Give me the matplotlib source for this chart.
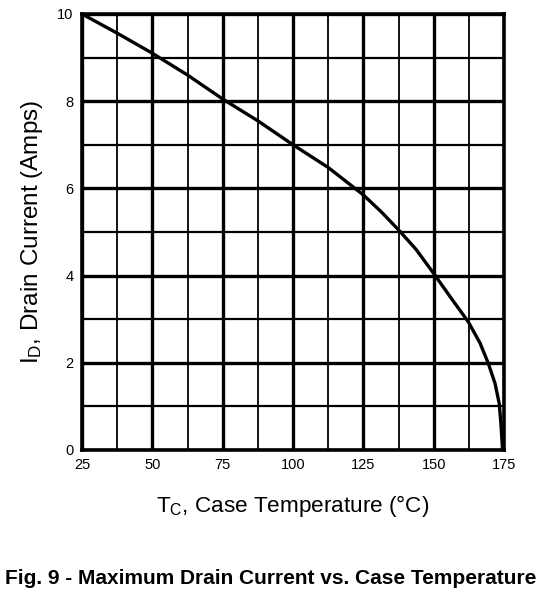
import numpy as np
import matplotlib
matplotlib.use("Agg")
from matplotlib import pyplot as plt

plt.rcParams["font.family"] = ["Liberation Sans", "DejaVu Sans"]
plt.rcParams["mathtext.default"] = "regular"

# curve
case_temp = [25, 37.5, 50, 62.5, 75, 87.5, 100, 112.5, 125, 131.25, 137.5, 143.75,
             150, 155.8, 162.3, 166.5, 169.4, 171.8, 173.3, 173.9, 174.5]
drain_current = [10, 9.56, 9.1, 8.6, 8.05, 7.55, 7.0, 6.48, 5.85, 5.47, 5.05, 4.6,
                 4.05, 3.52, 2.94, 2.45, 1.99, 1.53, 1.07, 0.61, 0]

x_ticks = [25, 50, 75, 100, 125, 150, 175]
y_ticks = [0, 2, 4, 6, 8, 10]

fig = plt.figure(figsize=(5.41, 5.98), dpi=100)
ax = fig.add_axes([0.1516, 0.2475, 0.7800, 0.7291])

# grid: thick at labelled ticks, thinner in between
for x in np.arange(25, 175.1, 12.5):
    lw = 2.4 if (x - 25) % 25 == 0 else 1.3
    ax.axvline(x, color="black", lw=lw, zorder=1)
for y in np.arange(0, 10.1, 1):
    lw = 2.4 if y % 2 == 0 else 1.6
    ax.axhline(y, color="black", lw=lw, zorder=1)

ax.plot(case_temp, drain_current, color="black", lw=2.4, zorder=3,
        solid_joinstyle="round")

ax.set_xlim(25, 175)
ax.set_ylim(0, 10)
ax.set_xticks(x_ticks)
ax.set_yticks(y_ticks)
ax.tick_params(length=0, labelsize=10.5, pad=6)
for s in ax.spines.values():
    s.set_linewidth(2.6)

ax.set_xlabel(r"T$_C$, Case Temperature (°C)", fontsize=16.2, labelpad=15)
ax.set_ylabel(r"I$_D$, Drain Current (Amps)", fontsize=17.5, labelpad=9)

fig.text(0.5, 0.033, "Fig. 9 - Maximum Drain Current vs. Case Temperature",
         ha="center", va="center", fontsize=15, fontweight="bold")

fig.savefig("out.png", dpi=100)
